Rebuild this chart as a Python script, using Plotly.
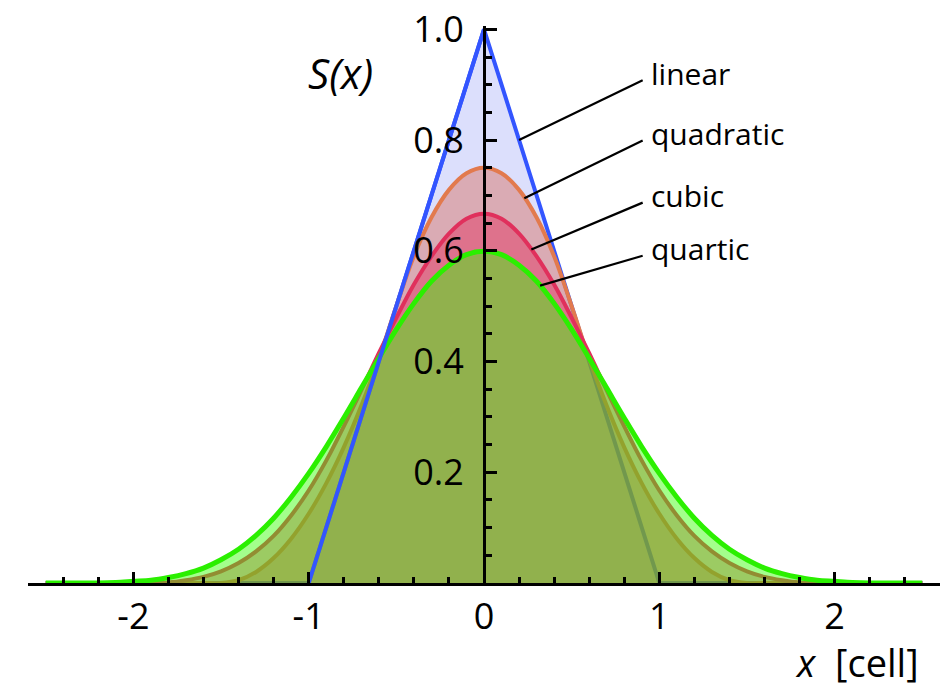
import numpy as np
import plotly.graph_objects as go

# Sample abscissa (cell units) shared by the smooth shape functions
X = [-2.5, -2.4, -2.3, -2.2, -2.1, -2.0, -1.9, -1.8, -1.7, -1.6,
     -1.5, -1.4, -1.3, -1.2, -1.1, -1.0, -0.9, -0.8, -0.7, -0.6,
     -0.5, -0.4, -0.3, -0.2, -0.1, 0.0, 0.1, 0.2, 0.3, 0.4,
     0.5, 0.6, 0.7, 0.8, 0.9, 1.0, 1.1, 1.2, 1.3, 1.4,
     1.5, 1.6, 1.7, 1.8, 1.9, 2.0, 2.1, 2.2, 2.3, 2.4, 2.5]

# Linear (tent) shape function: corner points
LIN_X = [-2.5, -1.0, 0.0, 1.0, 2.5]
LIN_Y = [0.0, 0.0, 1.0, 0.0, 0.0]

QUAD_Y = [0, 0, 0, 0, 0, 0, 0, 0, 0, 0,
          0, 0.005, 0.02, 0.045, 0.08, 0.125, 0.18, 0.245, 0.32, 0.405,
          0.5, 0.59, 0.66, 0.71, 0.74, 0.75, 0.74, 0.71, 0.66, 0.59,
          0.5, 0.405, 0.32, 0.245, 0.18, 0.125, 0.08, 0.045, 0.02, 0.005,
          0, 0, 0, 0, 0, 0, 0, 0, 0, 0, 0]

CUBIC_Y = [0, 0, 0, 0, 0, 0, 0.0, 0.001, 0.005, 0.011,
           0.021, 0.036, 0.057, 0.085, 0.122, 0.167, 0.221, 0.283, 0.348, 0.415,
           0.479, 0.539, 0.590, 0.631, 0.658, 0.667, 0.658, 0.631, 0.590, 0.539,
           0.479, 0.415, 0.348, 0.283, 0.221, 0.167, 0.122, 0.085, 0.057, 0.036,
           0.021, 0.011, 0.005, 0.001, 0.0, 0, 0, 0, 0, 0, 0]

QUART_Y = [0, 0, 0, 0, 0.001, 0.003, 0.005, 0.010, 0.017, 0.027,
           0.042, 0.061, 0.086, 0.117, 0.155, 0.198, 0.246, 0.298, 0.352, 0.406,
           0.458, 0.505, 0.545, 0.574, 0.593, 0.599, 0.593, 0.574, 0.545, 0.505,
           0.458, 0.406, 0.352, 0.298, 0.246, 0.198, 0.155, 0.117, 0.086, 0.061,
           0.042, 0.027, 0.017, 0.010, 0.005, 0.003, 0.001, 0, 0, 0, 0]

NAMES = ["linear", "quadratic", "cubic", "quartic"]
LABEL_AT = [0.2, 0.23, 0.27, 0.32]          # where each leader line touches its curve
LABEL_Y = [0.908, 0.799, 0.687, 0.591]      # label rows

X_TICKS = [-2, -1, 0, 1, 2]
X_TICKTEXT = ["-2", "-1", "0", "1", "2"]
Y_TICKS = [0.2, 0.4, 0.6, 0.8, 1.0]
Y_TICKTEXT = ["0.2", "0.4", "0.6", "0.8", "1.0"]

LINE_COLORS = ["#3355ff", "#e27a4e", "#e0305c", "#2bef00"]
FILL_COLORS = ["rgba(60,80,240,0.18)", "rgba(214,92,72,0.40)",
               "rgba(226,44,92,0.45)", "rgba(50,255,0,0.45)"]
LINE_WIDTHS = [4, 4, 4, 5]

curves = [(LIN_X, LIN_Y, "linear"), (X, QUAD_Y, "spline"),
          (X, CUBIC_Y, "spline"), (X, QUART_Y, "spline")]

FONT = "Open Sans"

fig = go.Figure()
for (xs, ys, shape), name, lc, fc, lw in zip(curves, NAMES, LINE_COLORS,
                                             FILL_COLORS, LINE_WIDTHS):
    fig.add_trace(go.Scatter(
        x=xs, y=ys, mode="lines", name=name, fill="tozeroy", fillcolor=fc,
        line=dict(color=lc, width=lw, shape=shape, smoothing=1.0),
        hoverinfo="skip"))

# Rising edge of the tent redrawn on top of the stacked fills
fig.add_trace(go.Scatter(
    x=LIN_X[1:3], y=LIN_Y[1:3], mode="lines",
    line=dict(color=LINE_COLORS[0], width=LINE_WIDTHS[0]), hoverinfo="skip"))

# Labels with leader lines to their curves
for (xs, ys, _), name, xa, ly in zip(curves, NAMES, LABEL_AT, LABEL_Y):
    ya = float(np.interp(xa, xs, ys))
    fig.add_shape(type="line", xref="x", yref="y", x0=xa, y0=ya, x1=0.905, y1=ly,
                  line=dict(color="black", width=2.2), layer="above")
    fig.add_annotation(x=0.94, y=ly, xref="x", yref="y", text=name,
                       showarrow=False, xanchor="left", yanchor="middle",
                       yshift=7,
                       font=dict(family=FONT, size=30, color="black"))

fig.add_annotation(x=-0.82, y=0.922, xref="x", yref="y", text="<i>S(x)</i>",
                   showarrow=False, xanchor="center", yanchor="middle",
                   font=dict(family=FONT, size=42, color="black"))
fig.add_annotation(x=2.125, y=-0.142, xref="x", yref="paper",
                   text="<i>x</i>&nbsp;&nbsp;[cell]", showarrow=False,
                   xanchor="center", yanchor="middle",
                   font=dict(family=FONT, size=38, color="black"))

fig.update_layout(
    width=944, height=690,
    margin=dict(l=28, r=4, t=19, b=107),
    paper_bgcolor="white", plot_bgcolor="white",
    showlegend=False,
    xaxis=dict(
        range=[-2.601, 2.601], showgrid=False, zeroline=False,
        showline=True, linecolor="black", linewidth=3,
        tickmode="array", tickvals=X_TICKS, ticktext=X_TICKTEXT,
        ticks="inside", ticklen=11, tickwidth=3, tickcolor="black",
        ticklabelstandoff=0, ticklabeloverflow="allow",
        tickfont=dict(family=FONT, size=36, color="black"),
        minor=dict(tickmode="linear", tick0=0, dtick=0.2, ticks="inside",
                   ticklen=6, tickwidth=3, tickcolor="black", showgrid=False),
    ),
    yaxis=dict(
        range=[0, 1.006], showgrid=False, zeroline=False,
        anchor="free", position=0.5,
        showline=True, linecolor="black", linewidth=3,
        tickmode="array", tickvals=Y_TICKS, ticktext=Y_TICKTEXT,
        ticks="inside", ticklen=11, tickwidth=3, tickcolor="black",
        ticklabelstandoff=12, ticklabeloverflow="allow",
        tickfont=dict(family=FONT, size=36, color="black"),
        minor=dict(tickmode="linear", tick0=0, dtick=0.05, ticks="inside",
                   ticklen=6, tickwidth=3, tickcolor="black", showgrid=False),
    ),
)

fig.write_html("out.html")
